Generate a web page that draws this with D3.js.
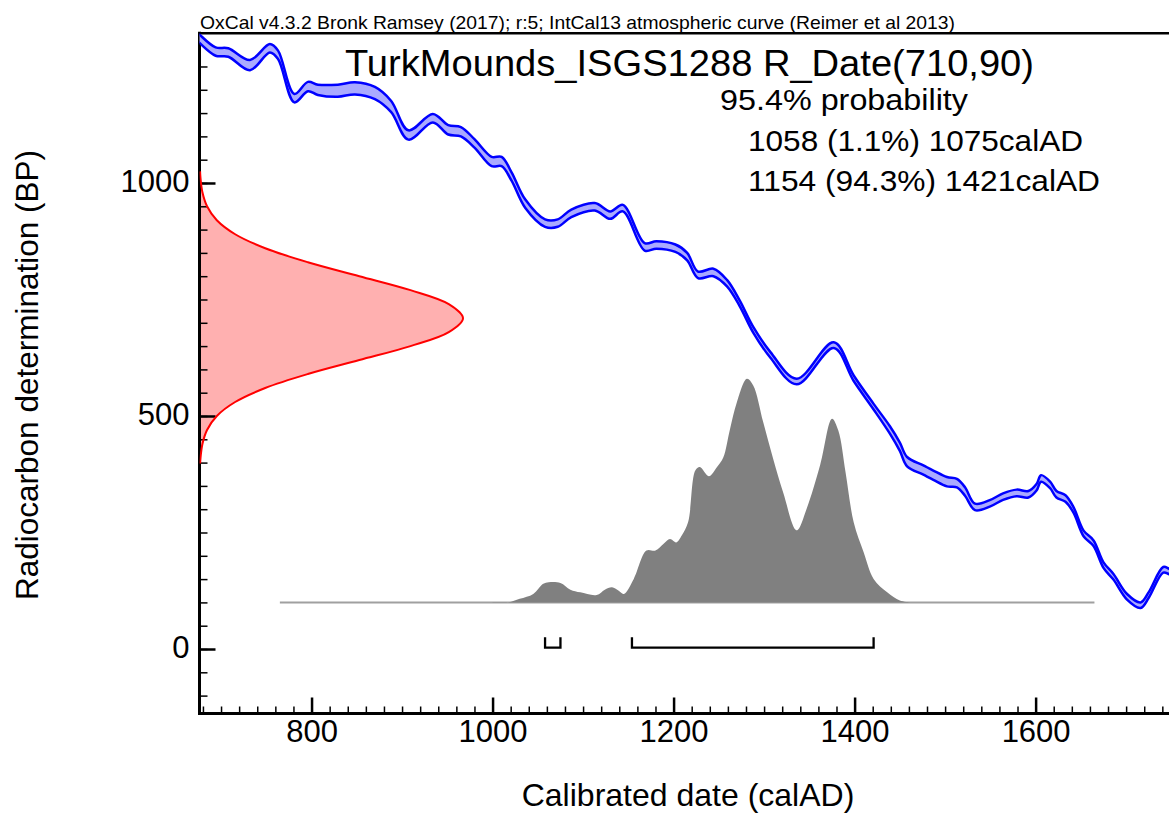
<!DOCTYPE html>
<html>
<head>
<meta charset="utf-8">
<script src="https://cdn.jsdelivr.net/npm/d3@7"></script>
<style>
  html, body { margin: 0; padding: 0; background: #fff; }
  svg { display: block; font-family: "Liberation Sans", Arial, sans-serif; }
</style>
</head>
<body>
<svg id="chart" width="1169" height="813"></svg>
<script>
// IntCal13 calibration curve: calendar year (AD), mean 14C age (BP), 1-sigma (BP)
const curveYears = [670, 676, 694, 708, 732, 754, 763, 781, 796, 807, 829, 848, 870, 888, 907, 934, 951, 965, 980, 999, 1010, 1021, 1036, 1058, 1072, 1087, 1113, 1130, 1144, 1168, 1181, 1202, 1215, 1227, 1244, 1259, 1273, 1288, 1307, 1336, 1377, 1399, 1421, 1439, 1450, 1458, 1476, 1487, 1502, 1513, 1522, 1533, 1550, 1564, 1579, 1592, 1601, 1606, 1616, 1623, 1633, 1642, 1653, 1664, 1675, 1686, 1701, 1716, 1725, 1741, 1748, 1760];
const curveBP = [1322, 1310, 1282, 1280, 1253, 1289, 1275, 1182, 1207, 1200, 1198, 1203, 1193, 1164, 1103, 1139, 1114, 1110, 1085, 1046, 1046, 1014, 956, 914, 914, 935, 949, 931, 946, 863, 867, 860, 842, 803, 808, 785, 742, 685, 631, 574, 652, 581, 520, 470, 434, 402, 384, 373, 359, 356, 338, 305, 313, 327, 335, 332, 347, 366, 352, 332, 323, 298, 248, 227, 180, 155, 112, 94, 116, 170, 166, 158];
const curveSigma = [9, 9, 9, 9, 11, 9, 9, 9, 10, 11, 13, 13, 13, 12, 10, 9, 10, 10, 9, 10, 10, 9, 9, 8, 8, 8, 8, 8, 7, 8, 8, 8, 8, 7, 8, 7, 6, 6, 6, 6, 6, 6, 6, 8, 9, 10, 10, 10, 10, 9, 9, 7, 7, 7, 7, 7, 7, 7, 7, 7, 7, 6, 6, 6, 6, 6, 6, 6, 6, 6, 6, 6];

// Radiocarbon measurement R_Date(710,90): relative density by 14C age
const radioBP = [398, 410, 440, 470, 500, 530, 560, 590, 620, 650, 680, 710, 740, 770, 800, 830, 860, 890, 920, 950, 980, 1010, 1025];
const radioDensity = [0.0024, 0.0039, 0.0111, 0.0286, 0.0657, 0.1353, 0.2494, 0.4111, 0.6065, 0.8007, 0.946, 1.0, 0.946, 0.8007, 0.6065, 0.4111, 0.2494, 0.1353, 0.0657, 0.0286, 0.0111, 0.0039, 0.0022];

// Calibrated probability distribution (relative to its maximum)
const calYears = [997, 1017, 1030, 1045, 1056, 1062, 1075, 1086, 1097, 1115, 1124, 1132, 1139, 1145, 1156, 1170, 1180, 1189, 1196, 1203, 1209, 1216, 1224, 1229, 1239, 1248, 1255, 1262, 1270, 1281, 1288, 1299, 1310, 1321, 1336, 1347, 1362, 1375, 1382, 1390, 1399, 1410, 1421, 1436, 1450, 1461];
const calProb = [0, 0, 0.016, 0.038, 0.083, 0.090, 0.087, 0.057, 0.045, 0.033, 0.057, 0.068, 0.053, 0.038, 0.105, 0.232, 0.232, 0.262, 0.283, 0.268, 0.299, 0.358, 0.59, 0.605, 0.564, 0.605, 0.649, 0.769, 0.896, 1.0, 0.970, 0.806, 0.642, 0.492, 0.322, 0.419, 0.615, 0.821, 0.768, 0.582, 0.358, 0.224, 0.105, 0.045, 0.008, 0];
const calRangeExtent = [765, 1665];

// 95.4% highest probability ranges (calAD)
const hpdRanges = [[1058, 1075], [1154, 1421]];

// Axis ticks
const xTickLabels = [800, 1000, 1200, 1400, 1600];
const xMinorTicks = d3.range(680, 1760, 20);
const yTickLabels = [0, 500, 1000];
const yMinorTicks = d3.range(-100, 1321, 50);

// Text
const headerText = "OxCal v4.3.2 Bronk Ramsey (2017); r:5; IntCal13 atmospheric curve (Reimer et al 2013)";
const titleText = "TurkMounds_ISGS1288 R_Date(710,90)";
const probLines = ["95.4% probability", "1058 (1.1%) 1075calAD", "1154 (94.3%) 1421calAD"];
const xTitle = "Calibrated date (calAD)";
const yTitle = "Radiocarbon determination (BP)";

const svg = d3.select("#chart");
const plotL = 199.5, plotR = 1175, plotT = 33.3, plotB = 713.5;

const x = d3.scaleLinear().domain([676.2, 1754]).range([plotL, plotR]);
const y = d3.scaleLinear().domain([-138.4, 1321.2]).range([plotB, plotT]);
const radioW = d3.scaleLinear().domain([0, 1]).range([plotL, 463]);
const calBase = 100, calPeak = 480;

svg.append("defs").append("clipPath").attr("id", "plot")
  .append("rect").attr("x", plotL).attr("y", plotT)
  .attr("width", plotR - plotL).attr("height", plotB - plotT);

const plot = svg.append("g").attr("clip-path", "url(#plot)");

// Radiocarbon date distribution along the BP axis
const radioPts = radioBP.map((b, i) => [b, radioDensity[i]]);
plot.append("path")
  .datum(radioPts)
  .attr("fill", "#ffb0b0")
  .attr("d", d3.area()
    .y(d => y(d[0])).x0(radioW(0)).x1(d => radioW(d[1]))
    .curve(d3.curveCatmullRom));

// Axes frame
const axisG = svg.append("g");
axisG.append("line").attr("x1", plotL).attr("x2", plotL).attr("y1", plotT - 1.5).attr("y2", plotB + 1.5)
  .attr("stroke", "#000").attr("stroke-width", 3);
axisG.append("line").attr("x1", plotL - 1.5).attr("x2", 1169).attr("y1", plotB).attr("y2", plotB)
  .attr("stroke", "#000").attr("stroke-width", 3);
axisG.append("line").attr("x1", plotL - 1.5).attr("x2", 1169).attr("y1", plotT).attr("y2", plotT)
  .attr("stroke", "#000").attr("stroke-width", 2.5);

// Minor ticks
const xMinor = svg.append("g").attr("transform", `translate(0,${plotB})`)
  .call(d3.axisBottom(x).tickValues(xMinorTicks).tickSize(-7).tickFormat(""));
xMinor.select(".domain").remove();
xMinor.selectAll("line").attr("stroke", "#000").attr("stroke-width", 1.5);

const yMinor = svg.append("g").attr("transform", `translate(${plotL},0)`)
  .call(d3.axisLeft(y).tickValues(yMinorTicks).tickSize(-8).tickFormat(""));
yMinor.select(".domain").remove();
yMinor.selectAll("line").attr("stroke", "#000").attr("stroke-width", 1.5);

// Major ticks with labels
const xMajor = svg.append("g").attr("transform", `translate(0,${plotB})`)
  .call(d3.axisBottom(x).tickValues(xTickLabels).tickSize(-16).tickPadding(6.5).tickFormat(d3.format("d")));
xMajor.select(".domain").remove();
xMajor.selectAll("line").attr("stroke", "#000").attr("stroke-width", 2.5);
xMajor.selectAll("text").attr("font-size", 31).attr("fill", "#000")
  .attr("font-family", "'Liberation Sans', Arial, sans-serif");

const yMajor = svg.append("g").attr("transform", `translate(${plotL},0)`)
  .call(d3.axisLeft(y).tickValues(yTickLabels).tickSize(-16).tickPadding(10).tickFormat(d3.format("d")));
yMajor.select(".domain").remove();
yMajor.selectAll("line").attr("stroke", "#000").attr("stroke-width", 2.5);
yMajor.selectAll("text").attr("font-size", 31).attr("fill", "#000").attr("dy", "0.28em")
  .attr("font-family", "'Liberation Sans', Arial, sans-serif");

// Outline of the radiocarbon distribution
const plot2 = svg.append("g").attr("clip-path", "url(#plot)");
plot2.append("path")
  .datum(radioPts)
  .attr("fill", "none").attr("stroke", "#ff0000").attr("stroke-width", 2)
  .attr("d", d3.line().y(d => y(d[0])).x(d => radioW(d[1])).curve(d3.curveCatmullRom));

// Calibration curve band
const curvePts = curveYears.map((yr, i) => ({ yr, bp: curveBP[i], s: curveSigma[i] }));
plot2.append("path")
  .datum(curvePts)
  .attr("fill", "#aaaaff")
  .attr("d", d3.area().x(d => x(d.yr)).y0(d => y(d.bp - d.s)).y1(d => y(d.bp + d.s)).curve(d3.curveCatmullRom));
[1, -1].forEach(k => {
  plot2.append("path")
    .datum(curvePts)
    .attr("fill", "none").attr("stroke", "#0000ff").attr("stroke-width", 2.5)
    .attr("stroke-linejoin", "round")
    .attr("d", d3.line().x(d => x(d.yr)).y(d => y(d.bp + k * d.s)).curve(d3.curveCatmullRom));
});

// Calibrated distribution
plot2.append("line")
  .attr("x1", x(calRangeExtent[0])).attr("x2", x(calRangeExtent[1]))
  .attr("y1", y(calBase)).attr("y2", y(calBase))
  .attr("stroke", "#a0a0a0").attr("stroke-width", 2);
const calPts = calYears.map((yr, i) => [yr, calProb[i]]);
plot2.append("path")
  .datum(calPts)
  .attr("fill", "#808080")
  .attr("d", d3.area().x(d => x(d[0])).y0(y(calBase)).y1(d => y(calBase + d[1] * calPeak)).curve(d3.curveCatmullRom));

// Range brackets
const bracketBP = 3, bracketH = 22;
hpdRanges.forEach(([a, b]) => {
  const p = d3.path();
  p.moveTo(x(a), y(bracketBP + bracketH));
  p.lineTo(x(a), y(bracketBP));
  p.lineTo(x(b), y(bracketBP));
  p.lineTo(x(b), y(bracketBP + bracketH));
  plot2.append("path").attr("d", p.toString())
    .attr("fill", "none").attr("stroke", "#000").attr("stroke-width", 2.3);
});

// Text
svg.append("text").attr("x", 200).attr("y", 28.5).attr("font-size", 19)
  .attr("textLength", 755).attr("lengthAdjust", "spacingAndGlyphs").text(headerText);

svg.append("text").attr("x", 345).attr("y", 76).attr("font-size", 36)
  .attr("textLength", 689).attr("lengthAdjust", "spacingAndGlyphs").text(titleText);

const probX = [720, 748, 748];
const probY = [110, 151, 191];
const probW = [248, 335, 352];
probLines.forEach((t, i) => {
  svg.append("text").attr("x", probX[i]).attr("y", probY[i]).attr("font-size", 30)
    .attr("textLength", probW[i]).attr("lengthAdjust", "spacingAndGlyphs").text(t);
});

svg.append("text").attr("x", 688).attr("y", 806).attr("font-size", 32)
  .attr("text-anchor", "middle").text(xTitle);

svg.append("text").attr("transform", "translate(38,375) rotate(-90)")
  .attr("font-size", 31.5).attr("text-anchor", "middle").text(yTitle);
</script>
</body>
</html>
